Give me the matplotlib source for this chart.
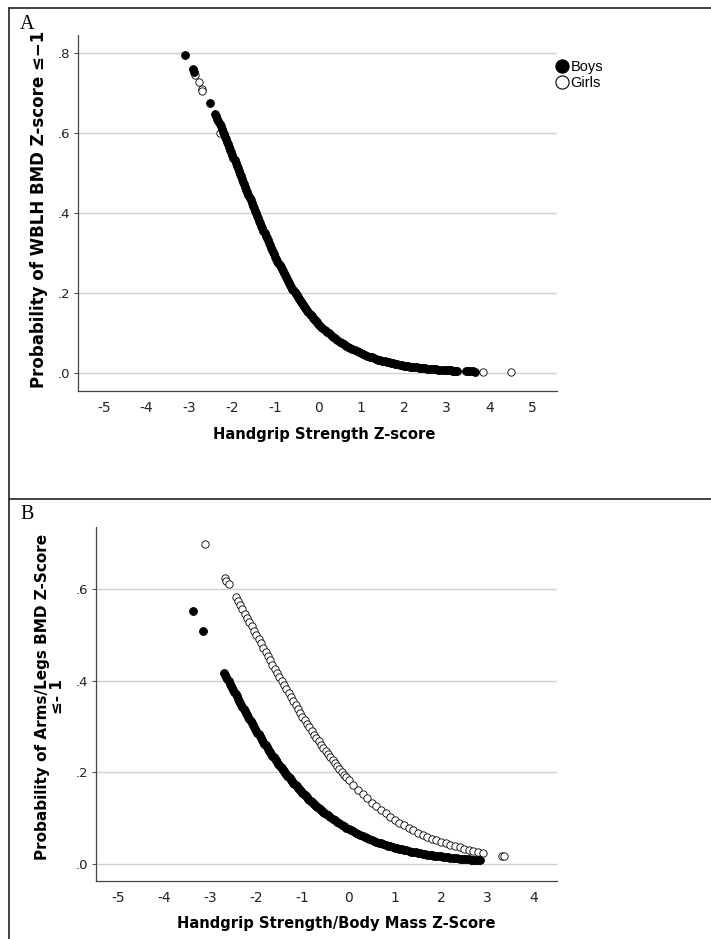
import matplotlib
matplotlib.use("Agg")
import matplotlib.pyplot as plt
from matplotlib.lines import Line2D

# ---------------- Panel A data (Handgrip Strength Z-score) ----------------
a_boys_x = [-3.10, -2.92, -2.90, -2.52,
            -2.400, -2.375, -2.350, -2.325, -2.300, -2.275, -2.250, -2.225, -2.200, -2.175,
            -2.150, -2.125, -2.100, -2.075, -2.050, -2.025, -2.000, -1.975, -1.950, -1.925,
            -1.900, -1.875, -1.850, -1.825, -1.800, -1.775, -1.750, -1.725, -1.700, -1.675,
            -1.650, -1.625, -1.600, -1.575, -1.550, -1.525, -1.500, -1.475, -1.450, -1.425,
            -1.400, -1.375, -1.350, -1.325, -1.300, -1.275, -1.250, -1.225, -1.200, -1.175,
            -1.150, -1.125, -1.100, -1.075, -1.050, -1.025, -1.000, -0.975, -0.950, -0.925,
            -0.900, -0.875, -0.850, -0.825, -0.800, -0.775, -0.750, -0.725, -0.700, -0.675,
            -0.650, -0.625, -0.600, -0.575, -0.550, -0.525, -0.500, -0.475, -0.450, -0.425,
            -0.400, -0.375, -0.350, -0.325, -0.300, -0.275, -0.250, -0.225, -0.200, -0.175,
            -0.150, -0.125, -0.100, -0.075, -0.050, -0.025, 0.000,
            0.05, 0.10, 0.15, 0.20, 0.25, 0.30, 0.35, 0.40, 0.45, 0.50,
            0.55, 0.60, 0.65, 0.70, 0.75, 0.80, 0.85, 0.90, 0.95, 1.00,
            1.05, 1.10, 1.15, 1.20, 1.25, 1.30, 1.35, 1.40, 1.45, 1.50,
            1.55, 1.60, 1.65, 1.70, 1.75, 1.80, 1.85, 1.90, 1.95, 2.00,
            2.05, 2.10, 2.15, 2.20, 2.25, 2.30, 2.35, 2.40, 2.45, 2.50,
            2.55, 2.60, 2.65, 2.70, 2.75, 2.80, 2.85, 2.90, 2.95, 3.00,
            3.05, 3.10, 3.15, 3.20, 3.24, 3.45, 3.50, 3.55, 3.60, 3.66]
a_boys_p = [0.796, 0.759, 0.753, 0.674,
            0.6475, 0.6414, 0.6352, 0.6290, 0.6227, 0.6164, 0.6100, 0.6036, 0.5972, 0.5908,
            0.5843, 0.5778, 0.5713, 0.5647, 0.5581, 0.5515, 0.5449, 0.5383, 0.5316, 0.5249,
            0.5182, 0.5116, 0.5049, 0.4982, 0.4915, 0.4848, 0.4781, 0.4715, 0.4648, 0.4582,
            0.4515, 0.4449, 0.4383, 0.4318, 0.4252, 0.4187, 0.4122, 0.4058, 0.3993, 0.3929,
            0.3865, 0.3802, 0.3739, 0.3677, 0.3615, 0.3554, 0.3492, 0.3432, 0.3372, 0.3313,
            0.3253, 0.3195, 0.3137, 0.3080, 0.3023, 0.2967, 0.2911, 0.2857, 0.2802, 0.2749,
            0.2695, 0.2643, 0.2591, 0.2541, 0.2490, 0.2441, 0.2391, 0.2343, 0.2295, 0.2249,
            0.2202, 0.2157, 0.2112, 0.2068, 0.2024, 0.1982, 0.1939, 0.1898, 0.1857, 0.1817,
            0.1777, 0.1739, 0.1700, 0.1663, 0.1626, 0.1591, 0.1555, 0.1521, 0.1486, 0.1453,
            0.1419, 0.1387, 0.1355, 0.1325, 0.1294, 0.1265, 0.1235,
            0.1183, 0.1130, 0.1082, 0.1034, 0.0990, 0.0945, 0.0904, 0.0863, 0.0825, 0.0787,
            0.0753, 0.0718, 0.0686, 0.0654, 0.0625, 0.0595, 0.0569, 0.0542, 0.0518, 0.0493,
            0.0471, 0.0448, 0.0428, 0.0407, 0.0389, 0.0370, 0.0353, 0.0336, 0.0321, 0.0305,
            0.0291, 0.0277, 0.0264, 0.0251, 0.0239, 0.0227, 0.0217, 0.0206, 0.0197, 0.0187,
            0.0179, 0.0170, 0.0162, 0.0154, 0.0147, 0.0139, 0.0133, 0.0126, 0.0120, 0.0114,
            0.0109, 0.0104, 0.0099, 0.0094, 0.0090, 0.0085, 0.0081, 0.0077, 0.0074, 0.0070,
            0.0067, 0.0063, 0.0060, 0.0057, 0.0055, 0.0045, 0.0043, 0.0041, 0.0039, 0.0037]
a_girls_x = [-2.87, -2.79, -2.71, -2.70, -2.28, -1.80, -1.20, -0.60, 0.20, 1.20, 2.20,
             3.13, 3.85, 4.50]
a_girls_p = [0.745, 0.728, 0.709, 0.706, 0.600, 0.4915, 0.3372, 0.2112, 0.1034, 0.0407,
             0.0154, 0.0060, 0.0035, 0.0020]

# ---------------- Panel B data (Handgrip Strength/Body Mass Z-Score) ----------------
b_boys_x = [-3.37, -3.15,
            -2.700, -2.675, -2.650, -2.625, -2.600, -2.575, -2.550, -2.525, -2.500, -2.475,
            -2.450, -2.425, -2.400, -2.375, -2.350, -2.325, -2.300, -2.275, -2.250, -2.225,
            -2.200, -2.175, -2.150, -2.125, -2.100, -2.075, -2.050, -2.025, -2.000, -1.975,
            -1.950, -1.925, -1.900, -1.875, -1.850, -1.825, -1.800, -1.775, -1.750, -1.725,
            -1.700, -1.675, -1.650, -1.625, -1.600, -1.575, -1.550, -1.525, -1.500, -1.475,
            -1.450, -1.425, -1.400, -1.375, -1.350, -1.325, -1.300, -1.275, -1.250, -1.225,
            -1.200, -1.175, -1.150, -1.125, -1.100, -1.075, -1.050, -1.025, -1.000, -0.975,
            -0.950, -0.925, -0.900, -0.875, -0.850, -0.825, -0.800, -0.775, -0.750, -0.725,
            -0.700, -0.675, -0.650, -0.625, -0.600, -0.575, -0.550, -0.525, -0.500,
            -0.45, -0.40, -0.35, -0.30, -0.25, -0.20, -0.15, -0.10, -0.05, 0.00,
            0.05, 0.10, 0.15, 0.20, 0.25, 0.30, 0.35, 0.40, 0.45, 0.50,
            0.55, 0.60, 0.65, 0.70, 0.75, 0.80, 0.85, 0.90, 0.95, 1.00,
            1.05, 1.10, 1.15, 1.20, 1.25, 1.30, 1.35, 1.40, 1.45, 1.50,
            1.55, 1.60, 1.65, 1.70, 1.75, 1.80, 1.85, 1.90, 1.95, 2.00,
            2.05, 2.10, 2.15, 2.20, 2.25, 2.30, 2.35, 2.40, 2.45, 2.50,
            2.55, 2.60, 2.65, 2.70, 2.75, 2.80, 2.85]
b_boys_p = [0.552, 0.509,
            0.4182, 0.4134, 0.4085, 0.4037, 0.3989, 0.3942, 0.3894, 0.3847, 0.3799, 0.3752,
            0.3705, 0.3659, 0.3612, 0.3567, 0.3521, 0.3476, 0.3430, 0.3385, 0.3340, 0.3296,
            0.3252, 0.3209, 0.3165, 0.3122, 0.3079, 0.3037, 0.2994, 0.2953, 0.2911, 0.2870,
            0.2829, 0.2789, 0.2749, 0.2710, 0.2670, 0.2631, 0.2592, 0.2554, 0.2516, 0.2479,
            0.2442, 0.2406, 0.2369, 0.2333, 0.2297, 0.2262, 0.2227, 0.2193, 0.2159, 0.2126,
            0.2092, 0.2059, 0.2026, 0.1994, 0.1962, 0.1931, 0.1900, 0.1870, 0.1839, 0.1810,
            0.1780, 0.1751, 0.1722, 0.1694, 0.1666, 0.1639, 0.1611, 0.1585, 0.1558, 0.1532,
            0.1506, 0.1481, 0.1455, 0.1431, 0.1406, 0.1383, 0.1359, 0.1336, 0.1312, 0.1290,
            0.1268, 0.1246, 0.1224, 0.1203, 0.1182, 0.1161, 0.1140, 0.1121, 0.1101,
            0.1063, 0.1025, 0.0989, 0.0953, 0.0920, 0.0887, 0.0856, 0.0824, 0.0795, 0.0766,
            0.0739, 0.0711, 0.0686, 0.0660, 0.0636, 0.0612, 0.0590, 0.0568, 0.0548, 0.0527,
            0.0508, 0.0488, 0.0470, 0.0452, 0.0436, 0.0419, 0.0404, 0.0388, 0.0374, 0.0359,
            0.0346, 0.0332, 0.0320, 0.0308, 0.0297, 0.0285, 0.0274, 0.0263, 0.0254, 0.0244,
            0.0235, 0.0225, 0.0217, 0.0208, 0.0201, 0.0193, 0.0186, 0.0178, 0.0172, 0.0165,
            0.0159, 0.0152, 0.0147, 0.0141, 0.0136, 0.0130, 0.0125, 0.0120, 0.0116, 0.0111,
            0.0107, 0.0103, 0.0099, 0.0095, 0.0091, 0.0087, 0.0083]
b_girls_x = [-3.12, -2.68, -2.65, -2.60,
             -2.45, -2.40, -2.35, -2.30, -2.25, -2.20, -2.15, -2.10, -2.05, -2.00,
             -1.95, -1.90, -1.85, -1.80, -1.75, -1.70, -1.65, -1.60, -1.55, -1.50,
             -1.45, -1.40, -1.35, -1.30, -1.25, -1.20, -1.15, -1.10, -1.05, -1.00,
             -0.95, -0.90, -0.85, -0.80, -0.75, -0.70, -0.65, -0.60, -0.55, -0.50,
             -0.45, -0.40, -0.35, -0.30, -0.25, -0.20, -0.15, -0.10, -0.05, 0.00,
             0.10, 0.20, 0.30, 0.40, 0.50, 0.60, 0.70, 0.80, 0.90, 1.00,
             1.10, 1.20, 1.30, 1.40, 1.50, 1.60, 1.70, 1.80, 1.90, 2.00,
             2.10, 2.20, 2.30, 2.40, 2.50, 2.60, 2.70, 2.80, 2.90,
             3.31, 3.36]
b_girls_p = [0.698, 0.6247, 0.619, 0.6105,
             0.5836, 0.5745, 0.5654, 0.5562, 0.5470, 0.5377, 0.5284, 0.5191, 0.5098, 0.5005,
             0.4912, 0.4819, 0.4725, 0.4633, 0.4540, 0.4448, 0.4356, 0.4264, 0.4173, 0.4083,
             0.3993, 0.3904, 0.3816, 0.3728, 0.3641, 0.3555, 0.3470, 0.3386, 0.3303, 0.3221,
             0.3140, 0.3060, 0.2982, 0.2904, 0.2828, 0.2753, 0.2679, 0.2607, 0.2536, 0.2466,
             0.2397, 0.2330, 0.2264, 0.2199, 0.2136, 0.2074, 0.2013, 0.1954, 0.1896, 0.1839,
             0.1730, 0.1626, 0.1527, 0.1433, 0.1344, 0.1259, 0.1179, 0.1104, 0.1033, 0.0966,
             0.0903, 0.0843, 0.0787, 0.0735, 0.0686, 0.0639, 0.0596, 0.0556, 0.0518, 0.0482,
             0.0449, 0.0418, 0.0389, 0.0362, 0.0337, 0.0314, 0.0292, 0.0271, 0.0252,
             0.0185, 0.0180]

y_ticks = [0.0, 0.2, 0.4, 0.6, 0.8]
y_tick_labels = [".0", ".2", ".4", ".6", ".8"]
b_y_ticks = [0.0, 0.2, 0.4, 0.6]
b_y_tick_labels = [".0", ".2", ".4", ".6"]
a_x_ticks = [-5, -4, -3, -2, -1, 0, 1, 2, 3, 4, 5]
b_x_ticks = [-5, -4, -3, -2, -1, 0, 1, 2, 3, 4]

legend_labels = ["Boys", "Girls"]

W, H = 711, 939
fig = plt.figure(figsize=(W / 100, H / 100), dpi=100)

SANS = ["DejaVu Sans"]

def px_rect(l, t, r, b):
    return [l / W, 1 - b / H, (r - l) / W, (b - t) / H]

axA = fig.add_axes(px_rect(78, 35, 557, 391))
axB = fig.add_axes(px_rect(96, 527, 557, 881))

S_FILLED = 32
S_OPEN = 28
LW = 0.6

def style(ax, xt, yt, ytl, xlim, ylim):
    ax.set_xlim(*xlim)
    ax.set_ylim(*ylim)
    ax.set_xticks(xt)
    ax.set_xticklabels([str(v) for v in xt], family=SANS, fontsize=10)
    ax.set_yticks(yt)
    ax.set_yticklabels(ytl, family=SANS, fontsize=9.5)
    ax.tick_params(axis="x", length=0, pad=7, colors="#222222")
    ax.tick_params(axis="y", length=3, width=0.8, pad=2.5, colors="#222222", color="#555555")
    for s in ("top", "right"):
        ax.spines[s].set_visible(False)
    for s in ("left", "bottom"):
        ax.spines[s].set_color("#444444")
        ax.spines[s].set_linewidth(0.9)
    ax.grid(axis="y", color="#cfcfcf", linewidth=1.0)
    ax.set_axisbelow(True)

style(axA, a_x_ticks, y_ticks, y_tick_labels, (-5.6, 5.57), (-0.045, 0.845))
style(axB, b_x_ticks, b_y_ticks, b_y_tick_labels, (-5.47, 4.51), (-0.037, 0.736))

# Panel A points
axA.scatter(a_girls_x, a_girls_p, s=S_OPEN, facecolor="white", edgecolor="black", linewidth=LW, zorder=3)
axA.scatter(a_boys_x, a_boys_p, s=S_FILLED, facecolor="black", edgecolor="black", linewidth=LW, zorder=4)

# Panel B points
axB.scatter(b_boys_x, b_boys_p, s=S_FILLED, facecolor="black", edgecolor="black", linewidth=LW, zorder=4)
axB.scatter(b_girls_x, b_girls_p, s=S_OPEN, facecolor="white", edgecolor="black", linewidth=LW, zorder=3)

# Axis titles
axA.set_xlabel("Handgrip Strength Z-score", family=SANS, fontweight="bold", fontsize=10.6)
axA.xaxis.set_label_coords(0.515, -0.101)
axA.set_ylabel("Probability of WBLH BMD Z-score \u2264\u22121", family=SANS, fontweight="bold",
               fontsize=12)
axA.yaxis.set_label_coords(-0.063, 0.51)

axB.set_xlabel("Handgrip Strength/Body Mass Z-Score", family=SANS, fontweight="bold", fontsize=10.6)
axB.xaxis.set_label_coords(0.522, -0.099)
axB.set_ylabel("Probability of Arms/Legs BMD Z-Score\n\u2264- 1", family=SANS, fontweight="bold",
               fontsize=11, linespacing=0.95, ha="center")
axB.yaxis.set_label_coords(-0.068, 0.52)

# Legend
handles = [Line2D([], [], linestyle="none", marker="o", markersize=9.5, markerfacecolor="black",
                  markeredgecolor="black", markeredgewidth=0.8),
           Line2D([], [], linestyle="none", marker="o", markersize=9.5, markerfacecolor="white",
                  markeredgecolor="black", markeredgewidth=0.8)]
axA.legend(handles, legend_labels, loc="upper left", bbox_to_anchor=(556 / W, 1 - 60 / H),
           bbox_transform=fig.transFigure, frameon=False, borderpad=0, borderaxespad=0,
           handlelength=0.8, handletextpad=0.2, labelspacing=0.15,
           prop={"family": "Liberation Sans", "size": 10.5})

# Panel frames and letters
frame_kw = dict(color="#333333", linewidth=1.3, transform=fig.transFigure)
fig.add_artist(Line2D([9 / W, 1.0], [1 - 8 / H, 1 - 8 / H], **frame_kw))
fig.add_artist(Line2D([9 / W, 9 / W], [1 - 8 / H, 0.0], **frame_kw))
fig.add_artist(Line2D([9 / W, 1.0], [1 - 499 / H, 1 - 499 / H], **frame_kw))
fig.text(20 / W, 1 - 29 / H, "A", family="Liberation Serif", fontsize=14.5)
fig.text(20 / W, 1 - 519 / H, "B", family="Liberation Serif", fontsize=14.5)

fig.savefig("out.png", dpi=100)
